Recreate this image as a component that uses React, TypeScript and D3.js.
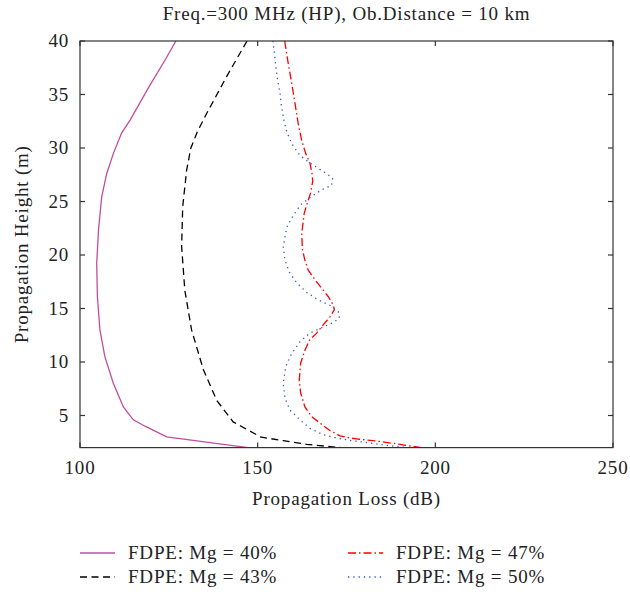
import React from "react";
import * as d3 from "d3";

const xTicks = [100, 150, 200, 250];
const yTicks = [5, 10, 15, 20, 25, 30, 35, 40];

const h40 = [40, 38.2, 35.6, 32.6, 31.4, 29.5, 27.6, 25.4, 22.3, 19.2, 16.1, 13.0, 10.5, 8.0, 5.8, 4.6, 4.0, 3.0, 2.0];
const l40 = [127, 123.9, 119.2, 114.1, 111.7, 109.4, 107.5, 106.1, 105.2, 104.7, 104.9, 105.6, 107.0, 109.4, 112.2, 115.0, 118.3, 124.4, 147.3];

const h43 = [40, 36.7, 33.2, 31.5, 30.0, 27.9, 24.5, 20.8, 16.7, 13.0, 9.3, 6.4, 4.4, 3.2, 3.0, 2.65, 2.3, 2.0];
const l43 = [147, 141.3, 135.6, 133.0, 131.2, 130.0, 128.9, 128.6, 129.5, 131.4, 134.7, 138.5, 143.1, 149.7, 150.6, 157.2, 163.8, 173.5];

const h47 = [40, 37.9, 36.0, 34.2, 32.3, 30.7, 29.5, 28.6, 27.6, 26.9, 25.8, 25.1, 23.9, 22.0, 20.5, 19.5, 18.6, 17.7, 16.9, 16.1, 15.3, 14.9, 14.2, 13.5, 12.7, 12.1, 11.1, 9.9, 8.3, 7.1, 5.8, 4.9, 4.3, 3.6, 3.1, 2.9, 2.8, 2.55, 2.3, 2.0];
const l47 = [157.6, 158.6, 159.6, 160.5, 161.4, 162.4, 163.5, 164.7, 165.3, 165.5, 164.9, 164.2, 163.1, 162.4, 162.6, 163.3, 164.2, 166.1, 168.0, 169.9, 171.3, 171.6, 170.3, 168.5, 166.6, 164.7, 163.3, 162.1, 161.7, 162.1, 163.3, 165.2, 167.5, 170.3, 173.2, 176.0, 178.3, 185, 190, 196];

const h50 = [40, 38.9, 37.6, 36.4, 35.1, 33.9, 32.6, 31.5, 30.4, 29.3, 28.6, 27.9, 27.2, 26.5, 26.1, 25.4, 24.7, 23.7, 22.6, 20.8, 19.5, 18.4, 17.4, 16.5, 15.8, 15.3, 14.7, 14.1, 13.7, 13.2, 12.7, 11.9, 10.8, 9.6, 8.0, 6.6, 5.5, 4.6, 3.8, 3.2, 2.9, 2.7, 2.45, 2.2, 2.0];
const l50 = [154.3, 154.7, 155.1, 155.6, 156.3, 156.7, 157.4, 158.2, 159.6, 161.9, 164.7, 168.0, 171.1, 170.8, 168.0, 164.9, 162.1, 160.0, 158.2, 157.2, 157.7, 158.9, 161.0, 163.8, 167.1, 170.3, 172.7, 173.0, 171.3, 168.0, 164.7, 161.9, 159.6, 157.9, 157.2, 157.7, 159.1, 161.9, 164.7, 168.5, 172.2, 175.5, 181, 186.5, 192];

const seriesNames = ["FDPE: Mg = 40%", "FDPE: Mg = 43%", "FDPE: Mg = 47%", "FDPE: Mg = 50%"];

const FONT = "'Liberation Serif', 'DejaVu Serif', serif";
const FS = 19;
const LS = 0.8;

export default function App() {
  const x = d3.scaleLinear().domain([100, 250]).range([80, 613]);
  const y = d3.scaleLinear().domain([2, 40]).range([447.6, 41]);

  const series = [
    { name: seriesNames[0], h: h40, l: l40, color: "#c24d9f", dash: "none" },
    { name: seriesNames[1], h: h43, l: l43, color: "#000000", dash: "7,4.5" },
    { name: seriesNames[2], h: h47, l: l47, color: "#ff0000", dash: "8,3,1.5,3" },
    { name: seriesNames[3], h: h50, l: l50, color: "#3355cc", dash: "1.3,4" },
  ];

  const line = d3
    .line<[number, number]>()
    .x((d) => x(d[0]))
    .y((d) => y(d[1]));

  const [x0, x1] = x.range();
  const [yb, yt] = y.range();
  const tickLen = 5;
  const axisColor = "#333";

  const legendPos = [
    { lx: 80, ly: 553 },
    { lx: 80, ly: 577 },
    { lx: 348, ly: 553 },
    { lx: 348, ly: 577 },
  ];

  return (
    <svg
      width={630}
      height={594}
      style={{ position: "absolute", left: 0, top: 0, background: "#fff" }}
      fontFamily={FONT}
      letterSpacing={LS}
    >
      <defs>
        <clipPath id="plotclip">
          <rect x={x0} y={yt} width={x1 - x0} height={yb - yt} />
        </clipPath>
      </defs>
      <text x={(x0 + x1) / 2} y={20} textAnchor="middle" fontSize={FS} fill="#222">
        Freq.=300 MHz (HP), Ob.Distance = 10 km
      </text>

      <g clipPath="url(#plotclip)">
        {series.map((s) => (
          <path
            key={s.name}
            d={line(s.l.map((v, i) => [v, s.h[i]] as [number, number])) || ""}
            fill="none"
            stroke={s.color}
            strokeWidth={1.3}
            strokeDasharray={s.dash}
          />
        ))}
      </g>

      <rect x={x0} y={yt} width={x1 - x0} height={yb - yt} fill="none" stroke={axisColor} strokeWidth={1.2} />

      {xTicks.map((t) => (
        <g key={"x" + t}>
          <line x1={x(t)} x2={x(t)} y1={yb} y2={yb - tickLen} stroke={axisColor} strokeWidth={1.2} />
          <line x1={x(t)} x2={x(t)} y1={yt} y2={yt + tickLen} stroke={axisColor} strokeWidth={1.2} />
          <text x={x(t)} y={yb + 26} textAnchor="middle" fontSize={FS} fill="#222">
            {t}
          </text>
        </g>
      ))}
      {yTicks.map((t) => (
        <g key={"y" + t}>
          <line x1={x0} x2={x0 + tickLen} y1={y(t)} y2={y(t)} stroke={axisColor} strokeWidth={1.2} />
          <line x1={x1} x2={x1 - tickLen} y1={y(t)} y2={y(t)} stroke={axisColor} strokeWidth={1.2} />
          <text x={x0 - 11} y={y(t) + 6} textAnchor="end" fontSize={FS} fill="#222">
            {t}
          </text>
        </g>
      ))}

      <text x={(x0 + x1) / 2} y={505} textAnchor="middle" fontSize={FS} fill="#222">
        Propagation Loss (dB)
      </text>
      <text
        transform={`translate(28, ${(yt + yb) / 2}) rotate(-90)`}
        textAnchor="middle"
        fontSize={FS}
        fill="#222"
      >
        Propagation Height (m)
      </text>

      {series.map((s, i) => {
        const p = legendPos[i];
        return (
          <g key={"lg" + i}>
            <line
              x1={p.lx}
              x2={p.lx + 35}
              y1={p.ly}
              y2={p.ly}
              stroke={s.color}
              strokeWidth={1.3}
              strokeDasharray={s.dash}
            />
            <text x={p.lx + 48} y={p.ly + 6} fontSize={FS} fill="#222">
              {s.name}
            </text>
          </g>
        );
      })}
    </svg>
  );
}
